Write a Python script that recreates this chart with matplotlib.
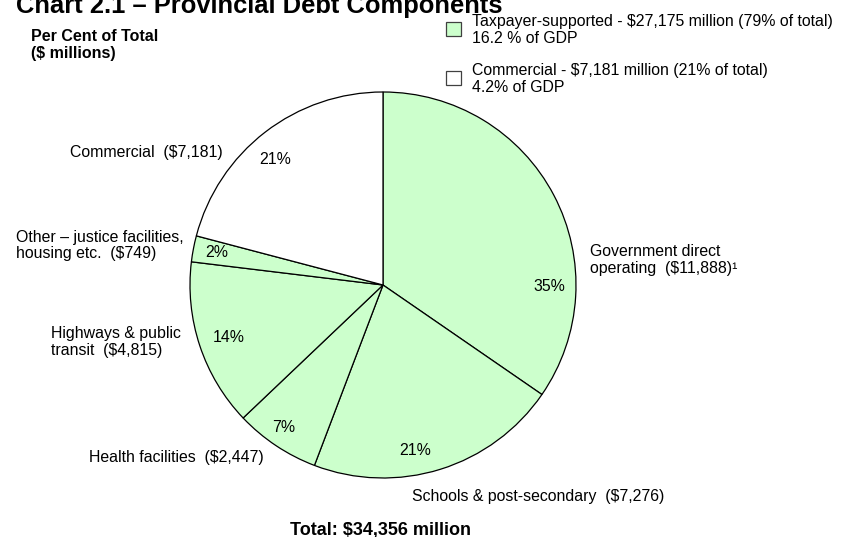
import matplotlib.pyplot as plt
from matplotlib.patches import Rectangle

plt.rcParams["font.family"] = ["Liberation Sans", "DejaVu Sans"]

# debt components, $ millions, clockwise from 12 o'clock
components = [
    "Government direct\noperating  ($11,888)\u00b9",
    "Schools & post-secondary  ($7,276)",
    "Health facilities  ($2,447)",
    "Highways & public\ntransit  ($4,815)",
    "Other \u2013 justice facilities,\nhousing etc.  ($749)",
    "Commercial  ($7,181)",
]
amounts = [11888, 7276, 2447, 4815, 749, 7181]
pct_labels = ["35%", "21%", "7%", "14%", "2%", "21%"]
is_commercial = [False, False, False, False, False, True]

total = sum(amounts)
green = "#ccffcc"

W, H = 842, 537
cx, cy, R = 383, 285, 193   # pie centre / radius in pixels

fig = plt.figure(figsize=(W / 100, H / 100), dpi=100)
ax = fig.add_axes([0, 0, 1, 1])

colors = ["white" if c else green for c in is_commercial]
ax.pie(amounts, colors=colors, startangle=90, counterclock=False,
       wedgeprops=dict(edgecolor="black", linewidth=0.9))
ax.set_xlim(-cx / R, (W - cx) / R)
ax.set_ylim(-(H - cy) / R, cy / R)
ax.set_aspect("equal")
ax.axis("off")

fs = 11.4

# percentage labels inside the wedges
pct_pos = [(0.86, -0.01), (0.166, -0.855), (-0.513, -0.736),
           (-0.80, -0.27), (-0.86, 0.166), (-0.56, 0.65)]
for txt, (x, y) in zip(pct_labels, pct_pos):
    ax.text(x, y, txt, ha="center", va="center", fontsize=fs)

# category labels around the pie
name_pos = [(1.07, 0.13, "left"), (0.15, -1.097, "left"),
            (-0.62, -0.896, "right"), (-1.72, -0.295, "left"),
            (-1.90, 0.205, "left"), (-0.83, 0.684, "right")]
for txt, (x, y, ha) in zip(components, name_pos):
    ax.text(x, y, txt, ha=ha, va="center", fontsize=fs, linespacing=1.15)


def fx(px):
    return px / W


def fy(py):
    return 1 - py / H


fig.text(fx(16), fy(13), "Chart 2.1 \u2013 Provincial Debt Components",
         fontsize=18.4, fontweight="bold", va="baseline")
fig.text(fx(31), fy(45), "Per Cent of Total\n($ millions)", fontsize=11.5,
         fontweight="bold", va="center", linespacing=1.15)
fig.text(fx(381), fy(530), f"Total: ${total:,} million", fontsize=13,
         fontweight="bold", ha="center", va="center")

# legend
taxpayer = total - sum(a for a, c in zip(amounts, is_commercial) if c)
commercial = total - taxpayer
legend_rows = [
    (green, f"Taxpayer-supported - ${taxpayer:,} million "
            f"({round(100 * taxpayer / total)}% of total)\n16.2 % of GDP", 29),
    ("white", f"Commercial - ${commercial:,} million "
              f"({round(100 * commercial / total)}% of total)\n4.2% of GDP", 78),
]
for color, txt, ymid in legend_rows:
    fig.patches.append(Rectangle((fx(446), fy(ymid - 7 + 14)), 15 / W, 14 / H,
                                 transform=fig.transFigure, facecolor=color,
                                 edgecolor="#404040", linewidth=0.9))
    fig.text(fx(472), fy(ymid + 1), txt, fontsize=fs, va="center",
             linespacing=1.15)

fig.savefig("out.png", dpi=100)
